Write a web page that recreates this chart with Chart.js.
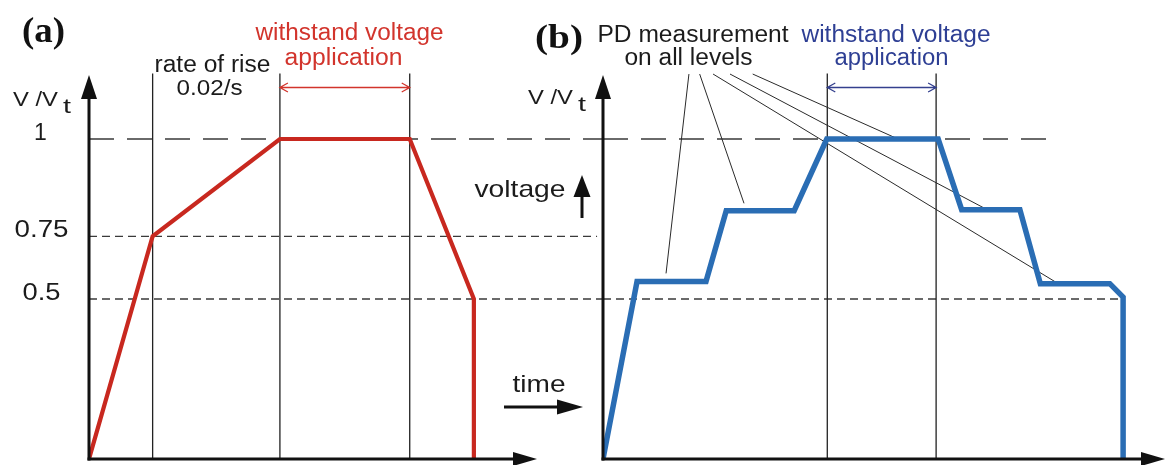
<!DOCTYPE html>
<html lang="en">
<head>
<meta charset="UTF-8">
<title>Withstand voltage test sequences</title>
<script src="https://cdn.jsdelivr.net/npm/chart.js"></script>
<style>
  body { margin: 0; background: #fff; }
  #quadro { position: relative; width: 1166px; height: 465px; }
  #quadro canvas { position: absolute; left: 0; top: 0; }
</style>
</head>
<body>
<div id="quadro">
  <canvas id="chartA" width="1166" height="465"></canvas>
  <canvas id="chartB" width="1166" height="465"></canvas>
</div>
<script>
// (a) time in s, voltage as V/Vt. The drawing is not to scale: the "0.75" level sits at ~0.7
const tempoA = [0, 6.25, 18.75, 31.5, 37.8, 37.8];
const tensaoA = [0, 0.696, 1, 1, 0.5, 0];
const marcasA = [6.25, 18.75, 31.5];

// (b) stepped sequence, PD measured on every plateau
const tempoB = [0, 3.33, 10.08, 12.06, 18.71, 21.9, 32.8, 35.1, 40.8, 42.8, 49.6, 50.9, 50.9];
const tensaoB = [0, 0.555, 0.555, 0.776, 0.776, 1, 1, 0.779, 0.779, 0.548, 0.548, 0.506, 0];
const marcasB = [21.95, 32.6];

// dashed reference levels and their tick labels
const niveis = [1, 0.696, 0.5];
const rotulosNiveis = ['1', '0.75', '0.5'];
const fimNivelA = [50.5, 49.9, 50.5];
const fimNivelB = [43.9, null, 50.9];

// leader lines from "PD measurement on all levels" to the plateaus
const guiaDeX = [8.41, 9.46, 10.77, 12.43, 14.65];
const guiaDeY = 1.203;
const guiaAteX = [6.17, 13.8, 44.5, 37.55, 28.74];
const guiaAteY = [0.58, 0.799, 0.549, 0.78, 1.002];

const topoMarca = 1.205;
const fonteSans = '"Liberation Sans", Arial, sans-serif';
const fonteSerif = '"Liberation Serif", "Times New Roman", serif';

function pontos(xs, ys) {
  return xs.map((x, i) => ({ x: x, y: ys[i] }));
}

function verticais(marcas) {
  return marcas.flatMap(t => [{ x: t, y: 0 }, { x: t, y: topoMarca }, { x: t, y: null }]);
}

function tracejados(fins) {
  const lista = [];
  niveis.forEach((nv, i) => {
    if (fins[i] === null) return;
    lista.push({
      data: [{ x: 0, y: nv }, { x: fins[i], y: nv }],
      borderColor: '#3a3a3a',
      borderWidth: 1.3,
      borderDash: i === 0 ? [25, 13] : [8, 5],
      clip: false,
      order: 5
    });
  });
  return lista;
}

function opcoes(padding, xmax) {
  return {
    responsive: false,
    animation: false,
    devicePixelRatio: 1,
    layout: { padding: padding },
    plugins: { legend: { display: false }, tooltip: { enabled: false } },
    scales: {
      x: { type: 'linear', min: 0, max: xmax, display: false },
      y: { type: 'linear', min: 0, max: 1.2, display: false }
    },
    elements: { point: { radius: 0 }, line: { tension: 0 } }
  };
}

// text drawn at a given width (the source figure is stretched sideways); larg null = natural width
function texto(ctx, t, cx, base, fonte, larg, cor) {
  ctx.save();
  ctx.font = fonte;
  ctx.fillStyle = cor || '#1b1b1b';
  ctx.textAlign = 'center';
  ctx.textBaseline = 'alphabetic';
  const w = ctx.measureText(t).width;
  ctx.translate(cx, base);
  if (larg) ctx.scale(larg / w, 1);
  ctx.fillText(t, 0, 0);
  ctx.restore();
}

function sans(tam) {
  return tam + 'px ' + fonteSans;
}

function seta(ctx, x1, y1, x2, y2, comp, meia, larg) {
  const ang = Math.atan2(y2 - y1, x2 - x1);
  const bx = x2 - comp * Math.cos(ang), by = y2 - comp * Math.sin(ang);
  ctx.save();
  ctx.strokeStyle = '#111';
  ctx.fillStyle = '#111';
  ctx.lineWidth = larg;
  ctx.beginPath();
  ctx.moveTo(x1, y1);
  ctx.lineTo(x2 - (comp - 2) * Math.cos(ang), y2 - (comp - 2) * Math.sin(ang));
  ctx.stroke();
  ctx.beginPath();
  ctx.moveTo(x2, y2);
  ctx.lineTo(bx - meia * Math.sin(ang), by + meia * Math.cos(ang));
  ctx.lineTo(bx + meia * Math.sin(ang), by - meia * Math.cos(ang));
  ctx.closePath();
  ctx.fill();
  ctx.restore();
}

function setaDupla(ctx, x1, x2, y, cor) {
  ctx.save();
  ctx.strokeStyle = cor;
  ctx.lineWidth = 1.3;
  ctx.beginPath();
  ctx.moveTo(x1, y); ctx.lineTo(x2, y);
  ctx.moveTo(x1 + 8, y - 4.5); ctx.lineTo(x1, y); ctx.lineTo(x1 + 8, y + 4.5);
  ctx.moveTo(x2 - 8, y - 4.5); ctx.lineTo(x2, y); ctx.lineTo(x2 - 8, y + 4.5);
  ctx.stroke();
  ctx.restore();
}

function eixos(ctx, area) {
  seta(ctx, area.left, area.bottom + 1.5, area.left, area.top, 24, 8, 3);
  seta(ctx, area.left - 1.5, area.bottom, area.right, area.bottom, 24, 7, 3);
}

function vSobreVt(ctx, x0, base) {
  texto(ctx, 'V /V', x0 + 22.5, base, sans(21), 45);
  texto(ctx, 't', x0 + 54, base + 7, sans(20), 8);
}

const desenhoA = {
  id: 'desenhoA',
  afterDatasetsDraw(chart) {
    const ctx = chart.ctx, area = chart.chartArea;
    const sx = chart.scales.x, sy = chart.scales.y;
    eixos(ctx, area);

    texto(ctx, '(a)', 43.5, 42, 'bold 36px ' + fonteSerif, 43, '#111');
    vSobreVt(ctx, 13, 106);

    const cxRot = [40.5, 41.5, 41.5];
    const largRot = [null, 54, 38];
    niveis.forEach((nv, i) => {
      texto(ctx, rotulosNiveis[i], cxRot[i], sy.getPixelForValue(nv) + 0.5, sans(23), largRot[i]);
    });

    texto(ctx, 'rate of rise', 212.5, 72, sans(23), 116);
    texto(ctx, '0.02/s', 209.5, 95, sans(22), 66);
    texto(ctx, 'withstand voltage', 349.5, 40, sans(23), 188, '#d2342c');
    texto(ctx, 'application', 343.5, 65, sans(23), 118, '#d2342c');
    setaDupla(ctx, sx.getPixelForValue(marcasA[1]), sx.getPixelForValue(marcasA[2]), 87.5, '#d2342c');

    texto(ctx, 'voltage', 520, 196.5, sans(24), 91);
    seta(ctx, 582, 218, 582, 175, 22, 8.5, 3);
    texto(ctx, 'time', 539, 392, sans(24), 53);
    seta(ctx, 504, 407, 583, 407, 26, 7.5, 3);
  }
};

const desenhoB = {
  id: 'desenhoB',
  afterDatasetsDraw(chart) {
    const ctx = chart.ctx, area = chart.chartArea;
    const sx = chart.scales.x;
    eixos(ctx, area);

    texto(ctx, '(b)', 559, 48, 'bold 34px ' + fonteSerif, 48, '#111');
    vSobreVt(ctx, 528, 104);

    texto(ctx, 'PD measurement', 693, 41.5, sans(23), 191);
    texto(ctx, 'on all levels', 688.5, 65, sans(23), 128);
    texto(ctx, 'withstand voltage', 896, 41.5, sans(23), 189, '#2e3f94');
    texto(ctx, 'application', 891.5, 65, sans(23), 114, '#2e3f94');
    setaDupla(ctx, sx.getPixelForValue(marcasB[0]), sx.getPixelForValue(marcasB[1]), 87.5, '#34408e');
  }
};

new Chart(document.getElementById('chartA'), {
  type: 'line',
  data: {
    datasets: [{
      data: pontos(tempoA, tensaoA),
      borderColor: '#c8281f',
      borderWidth: 4.2,
      order: 0
    }, {
      data: verticais(marcasA),
      borderColor: '#222',
      borderWidth: 1.3,
      clip: false,
      order: 4
    }].concat(tracejados(fimNivelA))
  },
  options: opcoes({ left: 89, right: 629, top: 75, bottom: 6 }, 44),
  plugins: [desenhoA]
});

const guias = guiaDeX.flatMap((x, i) => [
  { x: x, y: guiaDeY }, { x: guiaAteX[i], y: guiaAteY[i] }, { x: guiaAteX[i], y: null }
]);

new Chart(document.getElementById('chartB'), {
  type: 'line',
  data: {
    datasets: [{
      data: pontos(tempoB, tensaoB),
      borderColor: '#2a6db4',
      borderWidth: 5.5,
      order: 0
    }, {
      data: guias,
      borderColor: '#2a2a2a',
      borderWidth: 1,
      clip: false,
      order: 3
    }, {
      data: verticais(marcasB),
      borderColor: '#222',
      borderWidth: 1.3,
      clip: false,
      order: 4
    }].concat(tracejados(fimNivelB))
  },
  options: opcoes({ left: 603, right: 1, top: 75, bottom: 6 }, 55),
  plugins: [desenhoB]
});
</script>
</body>
</html>
